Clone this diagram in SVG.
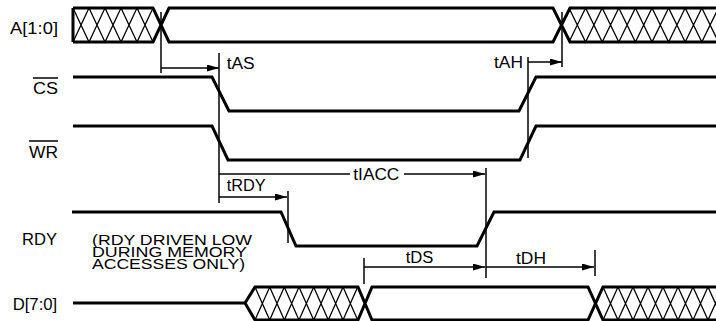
<svg xmlns="http://www.w3.org/2000/svg" width="716" height="321" viewBox="0 0 716 321">
<style>
.sig{fill:none;stroke:#000;stroke-width:3;stroke-linejoin:miter}
.hat{fill:none;stroke:#000;stroke-width:1.3}
.tm{fill:none;stroke:#000;stroke-width:1.5}
.bar{stroke:#000;stroke-width:1.5}
text{font-family:"Liberation Sans",Arial,Helvetica,sans-serif;font-size:16px;fill:#000}
.note{font-size:14.5px}
</style>
<defs>
<marker id="arr" markerUnits="userSpaceOnUse" markerWidth="13" markerHeight="8" refX="12" refY="3.5" orient="auto">
<path d="M0,0 L12,3.5 L0,7 z" fill="#000"/>
</marker>
</defs>
<rect width="716" height="321" fill="#fff"/>

<g id="sig-A">
<text x="10" y="33.5" textLength="48" lengthAdjust="spacingAndGlyphs">A[1:0]</text>
<path class="hat" d="M73,8 L89,42 L105,8 L121,42 L137,8 L153,42 M73,42 L89,8 L105,42 L121,8 L137,42 L153,8"/>
<path class="hat" d="M569,8 L585.6,42 L602.2,8 L618.8,42 L635.4,8 L652,42 L668.6,8 L685.2,42 L701.8,8 L718.4,42 M569,42 L585.6,8 L602.2,42 L618.8,8 L635.4,42 L652,8 L668.6,42 L685.2,8 L701.8,42 L718.4,8"/>
<path class="sig" d="M73,8 V42 M73,8 H153 L169,42 H553 L570,8 H716 M73,42 H153 L169,8 H553 L570,42 H716"/>
</g>

<g id="sig-CS">
<text x="33" y="93.5" textLength="25" lengthAdjust="spacingAndGlyphs">CS</text>
<line class="bar" x1="33" y1="78" x2="58" y2="78"/>
<path class="sig" d="M73,77 H212 L229,111 H519 L536,77 H716"/>
</g>

<g id="sig-WR">
<text x="29" y="157.8" textLength="29" lengthAdjust="spacingAndGlyphs">WR</text>
<line class="bar" x1="29" y1="141" x2="58" y2="141"/>
<path class="sig" d="M73,126 H212 L228,160 H520 L536,126 H716"/>
</g>

<g id="sig-RDY">
<text x="22" y="244.8" textLength="35" lengthAdjust="spacingAndGlyphs">RDY</text>
<path class="sig" d="M72,212 H281 L296,246 H477 L494,212 H716"/>
</g>

<g id="note">
<text class="note" x="92" y="245" textLength="160" lengthAdjust="spacingAndGlyphs">(RDY DRIVEN LOW</text>
<text class="note" x="92" y="256.8" textLength="155" lengthAdjust="spacingAndGlyphs">DURING MEMORY</text>
<text class="note" x="92" y="268.5" textLength="153" lengthAdjust="spacingAndGlyphs">ACCESSES ONLY)</text>
</g>

<g id="sig-D">
<text x="12.7" y="309.5" textLength="44.5" lengthAdjust="spacingAndGlyphs">D[7:0]</text>
<path class="hat" d="M255,287 L269.7,320 L284.3,287 L299,320 L313.7,287 L328.3,320 L343,287 L357.7,320 M255,320 L269.7,287 L284.3,320 L299,287 L313.7,320 L328.3,287 L343,320 L357.7,287"/>
<path class="hat" d="M603,287 L618,320 L633,287 L648,320 L663,287 L678,320 L693,287 L708,320 L723,287 M603,320 L618,287 L633,320 L648,287 L663,320 L678,287 L693,320 L708,287 L723,320"/>
<path class="sig" d="M73,303 H245 L255,287 H358 L372,320 H588 L603,287 H716 M245,303 L255,320 H358 L372,287 H588 L603,320 H716"/>
</g>

<g id="connectors">
<line class="tm" x1="161" y1="12" x2="161" y2="73"/>
<line class="tm" x1="161" y1="68" x2="219" y2="68" marker-end="url(#arr)"/>
<line class="tm" x1="219" y1="53" x2="219" y2="203"/>
<text x="226.7" y="68.5" textLength="28" lengthAdjust="spacingAndGlyphs">tAS</text>

<line class="tm" x1="528" y1="57" x2="528" y2="158"/>
<line class="tm" x1="528" y1="62" x2="562" y2="62" marker-end="url(#arr)"/>
<line class="tm" x1="562" y1="12" x2="562" y2="67"/>
<text x="494" y="68" textLength="29" lengthAdjust="spacingAndGlyphs">tAH</text>

<line class="tm" x1="219" y1="174" x2="350" y2="174"/>
<line class="tm" x1="404" y1="174" x2="485" y2="174" marker-end="url(#arr)"/>
<text x="353.3" y="180" textLength="46" lengthAdjust="spacingAndGlyphs">tIACC</text>
<line class="tm" x1="486" y1="168" x2="486" y2="278"/>

<line class="tm" x1="219" y1="197" x2="287" y2="197" marker-end="url(#arr)"/>
<line class="tm" x1="288" y1="191" x2="288" y2="243"/>
<text x="226.7" y="191" textLength="39" lengthAdjust="spacingAndGlyphs">tRDY</text>

<line class="tm" x1="364" y1="258" x2="364" y2="284"/>
<line class="tm" x1="364" y1="267" x2="485" y2="267" marker-end="url(#arr)"/>
<text x="405.7" y="263" textLength="27.7" lengthAdjust="spacingAndGlyphs">tDS</text>

<line class="tm" x1="486" y1="267" x2="594" y2="267" marker-end="url(#arr)"/>
<line class="tm" x1="595" y1="250" x2="595" y2="276"/>
<text x="516" y="263.5" textLength="30" lengthAdjust="spacingAndGlyphs">tDH</text>
</g>
</svg>
